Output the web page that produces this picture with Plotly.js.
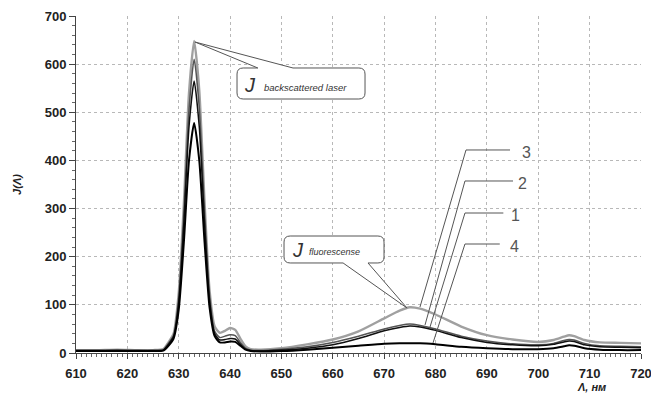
<!DOCTYPE html>
<html><head><meta charset="utf-8">
<script src="https://cdn.plot.ly/plotly-3.0.1.min.js"></script>
<style>html,body{margin:0;padding:0;background:#fff}#chart{width:651px;height:396px}</style>
</head><body><div id="chart"></div>
<script>
// wavelength, nm
const wavelength = [610,614,618,622,625,627,628,629,630,631,632,633,634,635,636,637,638,639,640,641,642,643,644,646,650,655,660,665,670,673,675,677,680,685,690,695,700,703,705,706,707,709,712,716,720];
// series J(λ)
const curve3 = [6,6,7,6,6,8,22,40,125,310,540,648,545,320,130,55,42,46,52,48,30,14,8,7,10,18,28,45,72,88,95,92,80,55,37,28,23,27,34,37,35,27,22,21,20];
const curve2 = [5,5,6,5,5,7,20,37,115,290,505,610,510,300,120,45,32,35,38,36,22,10,6,5,8,13,22,35,50,57,60,57,50,35,25,19,17,20,26,28,27,20,15,14,13];
const curve1 = [5,5,5,5,5,6,18,34,105,270,470,565,470,275,110,40,27,28,30,29,18,8,5,4,6,10,17,30,46,53,56,54,47,32,22,17,15,18,23,25,24,17,13,12,11];
const curve4 = [4,4,4,4,4,5,15,30,90,230,400,478,400,235,95,35,22,22,24,23,15,7,4,3,4,7,11,15,19,20,20,20,18,13,10,8,8,10,14,16,15,10,7,6,6];
const seriesNames = ['3','2','1','4'];
const xTicks = [610,620,630,640,650,660,670,680,690,700,710,720];
const yTicks = [0,100,200,300,400,500,600,700];

const styles = [
  {color:'#a0a0a0', width:2.4},
  {color:'#555555', width:1.5},
  {color:'#111111', width:1.5},
  {color:'#000000', width:2}
];
const allSeries = [curve3, curve2, curve1, curve4];
const traces = allSeries.map((ys,i)=>({
  x: wavelength, y: ys, type:'scatter', mode:'lines', name: seriesNames[i],
  line:{color:styles[i].color, width:styles[i].width, shape:'spline', smoothing:0.6},
  showlegend:false, hoverinfo:'x+y'
}));

function roundBoxTop(L,R,T,B,a,b,tx,ty){
  const rx=1.2, ry=12.5;
  return `M${L+rx},${T} L${a},${T} L${tx},${ty} L${b},${T} L${R-rx},${T} Q${R},${T} ${R},${T-ry} L${R},${B+ry} Q${R},${B} ${R-rx},${B} L${L+rx},${B} Q${L},${B} ${L},${B+ry} L${L},${T-ry} Q${L},${T} ${L+rx},${T} Z`;
}
function roundBoxBottom(L,R,T,B,a,b,tx,ty){
  const rx=1.2, ry=12.5;
  return `M${L+rx},${T} L${R-rx},${T} Q${R},${T} ${R},${T-ry} L${R},${B+ry} Q${R},${B} ${R-rx},${B} L${b},${B} L${tx},${ty} L${a},${B} L${L+rx},${B} Q${L},${B} ${L},${B+ry} L${L},${T-ry} Q${L},${T} ${L+rx},${T} Z`;
}

const leaderColor = '#555';
const shapes = [
  {type:'path', xref:'x', yref:'y', path: roundBoxTop(641.35,666.27,592,527.6,645.4,652.25,633.17,646), fillcolor:'#fff', line:{color:leaderColor,width:1}},
  {type:'path', xref:'x', yref:'y', path: roundBoxBottom(650.5,669.97,243,187,662.0,666.85,674.44,93.5), fillcolor:'#fff', line:{color:leaderColor,width:1}},
  {type:'path', xref:'x', yref:'y', path:'M694.5,421.7 L685.93,421.7 L676.97,95.5', line:{color:leaderColor,width:1}},
  {type:'path', xref:'x', yref:'y', path:'M695.08,357.3 L685.73,357.3 L677.95,58.2', line:{color:leaderColor,width:1}},
  {type:'path', xref:'x', yref:'y', path:'M693.2,290.8 L685.73,290.8 L678.92,54', line:{color:leaderColor,width:1}},
  {type:'path', xref:'x', yref:'y', path:'M692.5,226.4 L685.73,226.4 L679.5,20.8', line:{color:leaderColor,width:1}}
];

const FF = 'Liberation Sans, Arial, sans-serif';
const labelFont = {family:FF, size:16, color:'#555'};
const annotations = [
  {x:643.9, y:556.7, xref:'x', yref:'y', text:'<i>J</i>', showarrow:false, font:{family:FF, size:20, color:'#333'}, xanchor:'center', yanchor:'middle'},
  {x:646.2, y:552.5, xref:'x', yref:'y', text:'<i>backscattered laser</i>', showarrow:false, font:{family:FF, size:9.5, color:'#333'}, xanchor:'left', yanchor:'middle'},
  {x:653.2, y:214, xref:'x', yref:'y', text:'<i>J</i>', showarrow:false, font:{family:FF, size:20, color:'#333'}, xanchor:'center', yanchor:'middle'},
  {x:655.0, y:210.8, xref:'x', yref:'y', text:'<i>fluorescense</i>', showarrow:false, font:{family:'Liberation Sans Narrow, Liberation Sans, Arial, sans-serif', size:9, color:'#333'}, xanchor:'left', yanchor:'middle'},
  {x:697.8, y:417.5, xref:'x', yref:'y', text:seriesNames[0], showarrow:false, font:labelFont},
  {x:697.0, y:353, xref:'x', yref:'y', text:seriesNames[1], showarrow:false, font:labelFont},
  {x:695.5, y:286.6, xref:'x', yref:'y', text:seriesNames[2], showarrow:false, font:labelFont},
  {x:695.3, y:222, xref:'x', yref:'y', text:seriesNames[3], showarrow:false, font:labelFont},
  {x:0.912, y:-0.102, xref:'paper', yref:'paper', text:'<b><i>Λ, нм</i></b>', showarrow:false, font:{family:FF, size:11, color:'#222'}, xanchor:'center', yanchor:'middle'}
];

const tickFont = {family:FF, size:13, color:'#222', weight:'bold'};
const layout = {
  width:651, height:396,
  margin:{l:76, r:10, t:16, b:43},
  paper_bgcolor:'#fff', plot_bgcolor:'#fff',
  showlegend:false,
  xaxis:{
    range:[610,720], tickvals:xTicks, ticktext:xTicks.map(String),
    showline:true, linecolor:'#444', linewidth:1,
    ticks:'outside', ticklen:5, tickcolor:'#444',
    minor:{dtick:1, tick0:610, ticks:'outside', ticklen:3, tickcolor:'#666', showgrid:false},
    showgrid:true, gridcolor:'#b8b8b8', griddash:'dot', gridwidth:1,
    zeroline:false, tickfont:tickFont, ticklabelstandoff:3, ticklabeloverflow:'allow'
  },
  yaxis:{
    range:[0,700], tickvals:yTicks, ticktext:yTicks.map(String),
    showline:true, linecolor:'#444', linewidth:1,
    ticks:'outside', ticklen:6, tickcolor:'#444',
    minor:{dtick:20, tick0:0, ticks:'outside', ticklen:3, tickcolor:'#666', showgrid:false},
    showgrid:true, gridcolor:'#b8b8b8', griddash:'dot', gridwidth:1,
    zeroline:false, tickfont:tickFont, ticklabeloverflow:'allow',
    title:{text:'<b><i>J(Λ)</i></b>', font:{family:FF, size:11, color:'#222'}, standoff:20}
  },
  shapes: shapes,
  annotations: annotations
};
Plotly.newPlot('chart', traces, layout, {displayModeBar:false, staticPlot:true});
</script></body></html>
